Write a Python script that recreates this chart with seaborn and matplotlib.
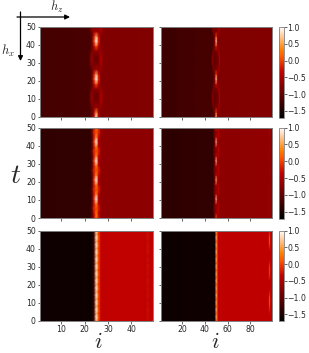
import numpy as np
import matplotlib
matplotlib.use("Agg")
import matplotlib.pyplot as plt
import seaborn as sns

# site ranges and tick labels
sites_small = 49
sites_large = 99
ticks_small = [10, 20, 30, 40]
ticks_large = [20, 40, 60, 80]
t_ticks = [0, 10, 20, 30, 40, 50]
cbar_ticks = [1.0, 0.5, 0.0, -0.5, -1.0, -1.5]

# wall tables: one line per time step (bottom to top), one column per site
wall_a1 = [
    [-1.18, -1.00, -0.35, 0.90, -0.35, -0.78, -0.80],
    [-1.18, -1.05, -0.55, 0.40, -0.55, -0.78, -0.80],
    [-1.18, -0.95, -0.70, -0.60, -0.70, -0.68, -0.80],
    [-1.15, -0.75, -0.80, -0.80, -0.80, -0.55, -0.78],
    [-1.10, -0.60, -0.90, -1.00, -0.90, -0.42, -0.75],
    [-1.15, -0.65, -0.85, -0.90, -0.85, -0.48, -0.78],
    [-1.18, -0.90, -0.70, -0.70, -0.70, -0.62, -0.80],
    [-1.18, -1.05, -0.40, 0.10, -0.40, -0.75, -0.80],
    [-1.18, -1.10, -0.10, 1.00, -0.10, -0.78, -0.80],
    [-1.18, -1.10, -0.25, 0.60, -0.25, -0.78, -0.80],
    [-1.18, -1.00, -0.70, -0.50, -0.70, -0.68, -0.80],
    [-1.15, -0.75, -0.80, -0.80, -0.80, -0.55, -0.78],
    [-1.10, -0.60, -0.90, -1.00, -0.90, -0.42, -0.75],
    [-1.15, -0.65, -0.85, -0.90, -0.85, -0.48, -0.78],
    [-1.18, -0.90, -0.70, -0.70, -0.70, -0.62, -0.80],
    [-1.18, -1.05, -0.40, 0.10, -0.40, -0.75, -0.80],
    [-1.18, -1.10, -0.10, 1.00, -0.10, -0.78, -0.80],
    [-1.18, -1.10, -0.25, 0.60, -0.25, -0.78, -0.80],
    [-1.18, -0.90, -0.60, -0.50, -0.60, -0.60, -0.80],
    [-1.15, -0.60, -0.75, -0.80, -0.75, -0.35, -0.75],
]
wall_a2 = [
    [-1.20, -1.20, -1.10, -0.70, 0.80, -0.55, -0.80, -0.80, -0.80],
    [-1.20, -1.20, -1.05, -0.80, 0.10, -0.70, -0.78, -0.80, -0.80],
    [-1.20, -1.10, -0.80, -0.90, -0.80, -0.85, -0.55, -0.78, -0.80],
    [-1.18, -0.80, -0.90, -1.00, -0.90, -0.95, -0.78, -0.50, -0.80],
    [-1.12, -0.65, -1.00, -1.05, -0.95, -1.00, -0.88, -0.45, -0.78],
    [-1.18, -0.75, -0.92, -1.00, -0.90, -0.95, -0.78, -0.50, -0.80],
    [-1.20, -1.05, -0.75, -0.95, -0.85, -0.85, -0.55, -0.75, -0.80],
    [-1.20, -1.20, -0.90, -0.65, -0.20, -0.55, -0.75, -0.80, -0.80],
    [-1.20, -1.20, -1.10, -0.60, 0.90, -0.45, -0.80, -0.80, -0.80],
    [-1.20, -1.20, -1.10, -0.70, 0.10, -0.60, -0.78, -0.80, -0.80],
    [-1.20, -1.10, -0.80, -0.90, -0.80, -0.85, -0.55, -0.78, -0.80],
    [-1.18, -0.80, -0.90, -1.00, -0.90, -0.95, -0.78, -0.50, -0.80],
    [-1.12, -0.65, -1.00, -1.05, -0.95, -1.00, -0.88, -0.45, -0.78],
    [-1.18, -0.75, -0.92, -1.00, -0.90, -0.95, -0.78, -0.50, -0.80],
    [-1.20, -1.05, -0.75, -0.95, -0.85, -0.85, -0.55, -0.75, -0.80],
    [-1.20, -1.20, -0.90, -0.65, -0.10, -0.55, -0.75, -0.80, -0.80],
    [-1.20, -1.20, -1.10, -0.60, 0.90, -0.45, -0.80, -0.80, -0.80],
    [-1.20, -1.20, -1.05, -0.70, 0.10, -0.60, -0.78, -0.80, -0.80],
    [-1.20, -1.10, -0.65, -0.90, -0.75, -0.85, -0.45, -0.78, -0.80],
    [-1.18, -0.65, -0.85, -1.00, -0.85, -0.95, -0.70, -0.40, -0.80],
]
wall_b1 = [
    [-1.35, -1.10, -0.40, 0.20, -0.20, -0.66, -0.70],
    [-1.35, -1.22, -0.35, 0.30, -0.35, -0.68, -0.70],
    [-1.35, -1.15, -0.15, 0.05, -0.15, -0.60, -0.70],
    [-1.35, -1.25, -0.30, 0.35, -0.35, -0.68, -0.70],
    [-1.35, -1.30, -0.15, 1.00, -0.40, -0.68, -0.70],
    [-1.35, -1.25, -0.30, 0.40, -0.35, -0.68, -0.70],
    [-1.35, -1.15, -0.15, 0.05, -0.10, -0.60, -0.70],
    [-1.35, -1.25, -0.30, 0.35, -0.35, -0.68, -0.70],
    [-1.35, -1.30, -0.10, 1.00, -0.40, -0.68, -0.70],
    [-1.35, -1.25, -0.30, 0.40, -0.35, -0.68, -0.70],
    [-1.35, -1.15, -0.15, 0.05, -0.10, -0.60, -0.70],
    [-1.35, -1.25, -0.30, 0.35, -0.35, -0.68, -0.70],
    [-1.35, -1.30, -0.10, 1.00, -0.40, -0.68, -0.70],
    [-1.35, -1.25, -0.30, 0.40, -0.35, -0.68, -0.70],
    [-1.35, -1.15, -0.15, 0.05, -0.10, -0.60, -0.70],
    [-1.35, -1.25, -0.30, 0.35, -0.35, -0.68, -0.70],
    [-1.35, -1.30, -0.10, 1.00, -0.40, -0.68, -0.70],
    [-1.35, -1.25, -0.30, 0.40, -0.35, -0.68, -0.70],
    [-1.35, -1.15, -0.15, 0.05, -0.10, -0.60, -0.70],
    [-1.35, -1.25, -0.30, 0.25, -0.20, -0.66, -0.70],
]
wall_b2 = [
    [-1.35, -1.28, -0.90, 0.20, -0.55, -0.70, -0.70],
    [-1.35, -1.15, -0.80, -0.50, -0.60, -0.50, -0.70],
    [-1.35, -1.00, -0.88, -0.75, -0.72, -0.35, -0.66],
    [-1.35, -1.15, -0.75, -0.40, -0.60, -0.50, -0.70],
    [-1.35, -1.30, -0.80, 0.80, -0.45, -0.68, -0.70],
    [-1.35, -1.15, -0.80, -0.30, -0.60, -0.50, -0.70],
    [-1.35, -1.00, -0.88, -0.75, -0.72, -0.35, -0.66],
    [-1.35, -1.15, -0.75, -0.40, -0.60, -0.50, -0.70],
    [-1.35, -1.30, -0.80, 0.70, -0.45, -0.68, -0.70],
    [-1.35, -1.15, -0.80, -0.30, -0.60, -0.50, -0.70],
    [-1.35, -1.00, -0.88, -0.75, -0.72, -0.35, -0.66],
    [-1.35, -1.15, -0.75, -0.40, -0.60, -0.50, -0.70],
    [-1.35, -1.30, -0.80, 0.80, -0.45, -0.68, -0.70],
    [-1.35, -1.15, -0.80, -0.30, -0.60, -0.50, -0.70],
    [-1.35, -1.00, -0.88, -0.75, -0.72, -0.35, -0.66],
    [-1.35, -1.15, -0.75, -0.40, -0.60, -0.50, -0.70],
    [-1.35, -1.30, -0.80, 0.80, -0.45, -0.68, -0.70],
    [-1.35, -1.15, -0.80, -0.30, -0.60, -0.50, -0.70],
    [-1.35, -1.00, -0.88, -0.75, -0.72, -0.35, -0.66],
    [-1.35, -1.15, -0.75, -0.20, -0.55, -0.45, -0.70],
]
wall_c1 = [
    [-1.59, -1.30, 0.60, -0.02, -0.33],
    [-1.59, -1.25, 0.95, 0.10, -0.33],
    [-1.59, -1.30, 0.55, -0.02, -0.33],
    [-1.59, -1.25, 0.95, 0.10, -0.33],
    [-1.59, -1.30, 0.55, -0.02, -0.33],
    [-1.59, -1.25, 0.95, 0.10, -0.33],
    [-1.59, -1.30, 0.55, -0.02, -0.33],
    [-1.59, -1.25, 0.95, 0.10, -0.33],
    [-1.59, -1.30, 0.55, -0.02, -0.33],
    [-1.59, -1.25, 0.95, 0.10, -0.33],
    [-1.59, -1.30, 0.55, -0.02, -0.33],
    [-1.59, -1.25, 0.95, 0.10, -0.33],
    [-1.59, -1.30, 0.55, -0.02, -0.33],
    [-1.59, -1.25, 0.95, 0.10, -0.33],
    [-1.59, -1.30, 0.55, -0.02, -0.33],
    [-1.59, -1.25, 0.95, 0.10, -0.33],
    [-1.59, -1.30, 0.55, -0.02, -0.33],
    [-1.59, -1.25, 0.95, 0.10, -0.33],
    [-1.59, -1.30, 0.55, -0.02, -0.33],
    [-1.59, -1.25, 0.95, 0.10, -0.33],
    [-1.59, -1.30, 0.55, -0.02, -0.33],
    [-1.59, -1.25, 0.95, 0.10, -0.33],
    [-1.59, -1.30, 0.55, -0.02, -0.33],
    [-1.59, -1.25, 0.95, 0.10, -0.33],
    [-1.59, -1.30, 0.55, -0.02, -0.33],
    [-1.59, -1.25, 0.90, 0.10, -0.33],
]
wall_c2 = [
    [-1.60, -1.50, 0.00, 0.00, -0.36],
    [-1.60, -1.45, 0.75, -0.05, -0.36],
    [-1.60, -1.50, 0.00, 0.00, -0.36],
    [-1.60, -1.45, 0.75, -0.05, -0.36],
    [-1.60, -1.50, 0.05, 0.00, -0.36],
    [-1.60, -1.45, 0.70, -0.05, -0.36],
    [-1.60, -1.50, 0.00, 0.00, -0.36],
    [-1.60, -1.45, 0.75, -0.05, -0.36],
    [-1.60, -1.50, 0.05, 0.00, -0.36],
    [-1.60, -1.45, 0.70, -0.05, -0.36],
    [-1.60, -1.50, 0.00, 0.00, -0.36],
    [-1.60, -1.45, 0.75, -0.05, -0.36],
    [-1.60, -1.50, 0.05, 0.00, -0.36],
    [-1.60, -1.45, 0.70, -0.05, -0.36],
    [-1.60, -1.50, 0.00, 0.00, -0.36],
    [-1.60, -1.45, 0.75, -0.05, -0.36],
    [-1.60, -1.50, 0.05, 0.00, -0.36],
    [-1.60, -1.45, 0.70, -0.05, -0.36],
    [-1.60, -1.50, 0.00, 0.00, -0.36],
    [-1.60, -1.45, 0.75, -0.05, -0.36],
    [-1.60, -1.50, 0.05, 0.00, -0.36],
    [-1.60, -1.45, 0.70, -0.05, -0.36],
    [-1.60, -1.50, 0.00, 0.00, -0.36],
    [-1.60, -1.45, 0.75, -0.05, -0.36],
    [-1.60, -1.50, 0.05, 0.00, -0.36],
    [-1.60, -1.45, 0.70, -0.05, -0.36],
]

# plateau levels either side of the wall, block by block from left to right
left_a1 = [-1.21, -1.20, -1.19]
right_a1 = [-0.80, -0.80, -0.79]
left_a2 = [-1.26, -1.23, -1.21]
right_a2 = [-0.80, -0.79, -0.78]
left_b1 = [-1.36, -1.35, -1.35]
right_b1 = [-0.70, -0.70, -0.70]
left_b2 = [-1.38, -1.36, -1.35]
right_b2 = [-0.70, -0.69, -0.68]
left_c1 = [-1.60, -1.60, -1.59]
right_c1 = [-0.35, -0.35, -0.35]
left_c2 = [-1.61, -1.60, -1.60]
right_c2 = [-0.36, -0.36, -0.36]

# stripe near the right edge, one value per time step
edge_b2 = [-0.65, -0.62, -0.52, -0.62, -0.66, -0.60, -0.52, -0.60, -0.66, -0.60,
           -0.52, -0.60, -0.66, -0.58, -0.52, -0.58, -0.66, -0.58, -0.48, -0.52]
edge_c1 = [-0.30, -0.28, -0.30, -0.26, -0.30, -0.28, -0.32, -0.26, -0.30, -0.28,
           -0.30, -0.26, -0.32, -0.28, -0.30, -0.26, -0.30, -0.28, -0.32, -0.26,
           -0.28, -0.26, -0.30, -0.28, -0.26, -0.30]
edge_c2 = [-0.36, -0.36, -0.32, -0.15, 0.00, 0.10, 0.10, 0.00, -0.25, -0.36,
           -0.36, -0.36, -0.15, 0.00, 0.05, 0.00, -0.20, -0.36, -0.36, -0.36,
           -0.25, 0.00, 0.10, 0.10, -0.05, -0.25]

panels = [
    (sites_small, 22, wall_a1, left_a1, right_a1, None),
    (sites_large, 46, wall_a2, left_a2, right_a2, None),
    (sites_small, 22, wall_b1, left_b1, right_b1, None),
    (sites_large, 47, wall_b2, left_b2, right_b2, edge_b2),
    (sites_small, 23, wall_c1, left_c1, right_c1, edge_c1),
    (sites_large, 48, wall_c2, left_c2, right_c2, edge_c2),
]

W, H = 309, 353


def px_axes(fig, x0, y0, x1, y1):
    return fig.add_axes([x0 / W, 1 - y1 / H, (x1 - x0) / W, (y1 - y0) / H])


def build_field(n_sites, first_wall_site, wall, left, right, edge):
    wall = np.array(wall)
    n_rows, n_wall = wall.shape
    start = first_wall_site - 1
    stop = start + n_wall
    field = np.zeros((n_rows, n_sites))
    for idx, part in enumerate(np.array_split(np.arange(start), len(left))):
        field[:, part] = left[idx]
    for idx, part in enumerate(np.array_split(np.arange(stop, n_sites), len(right))):
        field[:, part] = right[idx]
    field[:, start:stop] = wall
    if edge is not None:
        field[:, n_sites - 3] = edge
    return field


sns.set_style("ticks")
plt.rcParams["mathtext.fontset"] = "cm"
plt.rcParams["font.family"] = ["DejaVu Sans"]

fig = plt.figure(figsize=(W / 100, H / 100), dpi=100)

rows_px = [(27, 117), (127.5, 218), (230.5, 320.5)]
cols_px = [(40, 152.5), (160.5, 272)]
spine_col = "#808080"
text_col = "#262626"

for k, (n_sites, first, wall, left, right, edge) in enumerate(panels):
    row, col = divmod(k, 2)
    y0, y1 = rows_px[row]
    x0, x1 = cols_px[col]
    ax = px_axes(fig, x0, y0, x1, y1)
    field = build_field(n_sites, first, wall, left, right, edge)

    if col == 1:
        cax = px_axes(fig, 278.5, y0, 283.5, y1 + 0.5)
        sns.heatmap(field, ax=ax, cmap="gist_heat", vmin=-1.7, vmax=1.0, shading="gouraud",
                    xticklabels=False, yticklabels=False, cbar=True, cbar_ax=cax,
                    cbar_kws={"ticks": cbar_ticks})
        cb = ax.collections[0].colorbar
        cb.outline.set_linewidth(0.6)
        cb.outline.set_edgecolor(spine_col)
        cb.ax.tick_params(labelsize=5.6, length=1.8, width=0.5, pad=0.8, colors=text_col)
    else:
        sns.heatmap(field, ax=ax, cmap="gist_heat", vmin=-1.7, vmax=1.0, shading="gouraud",
                    xticklabels=False, yticklabels=False, cbar=False)

    n_rows = field.shape[0]
    ax.set_xlim(0, n_sites - 1)
    ax.set_ylim(0, n_rows - 1)

    xt = ticks_small if col == 0 else ticks_large
    ax.set_xticks([s - 1 for s in xt])
    ax.set_yticks([v / 50 * (n_rows - 1) for v in t_ticks])
    ax.set_xticklabels(xt if row == 2 else [], rotation=0)
    ax.set_yticklabels(t_ticks if col == 0 else [], rotation=0)
    ax.tick_params(labelsize=5.6, length=1.8, width=0.5, pad=1.2, colors=text_col)
    for s in ax.spines.values():
        s.set_visible(True)
        s.set_linewidth(0.7)
        s.set_edgecolor(spine_col)

fig.text(57 / W, 1 - 7 / H, "$h_z$", fontsize=9, ha="center", va="center", color=text_col)
fig.text(8 / W, 1 - 51 / H, "$h_x$", fontsize=9, ha="center", va="center", color=text_col)
fig.text(16 / W, 1 - 175 / H, "$t$", fontsize=20, ha="center", va="center", color=text_col)
fig.text(98 / W, 1 - 342 / H, "$i$", fontsize=16, ha="center", va="center", color=text_col)
fig.text(215 / W, 1 - 342 / H, "$i$", fontsize=16, ha="center", va="center", color=text_col)

arrow = dict(arrowstyle="-|>", color="black", lw=0.9, mutation_scale=7, shrinkA=0, shrinkB=0)
fig.add_artist(plt.matplotlib.patches.FancyArrowPatch(
    (17 / W, 1 - 17 / H), (70 / W, 1 - 17 / H), transform=fig.transFigure, **arrow))
fig.add_artist(plt.matplotlib.patches.FancyArrowPatch(
    (20.5 / W, 1 - 12 / H), (20.5 / W, 1 - 61 / H), transform=fig.transFigure, **arrow))

fig.savefig("out.png", dpi=100)
